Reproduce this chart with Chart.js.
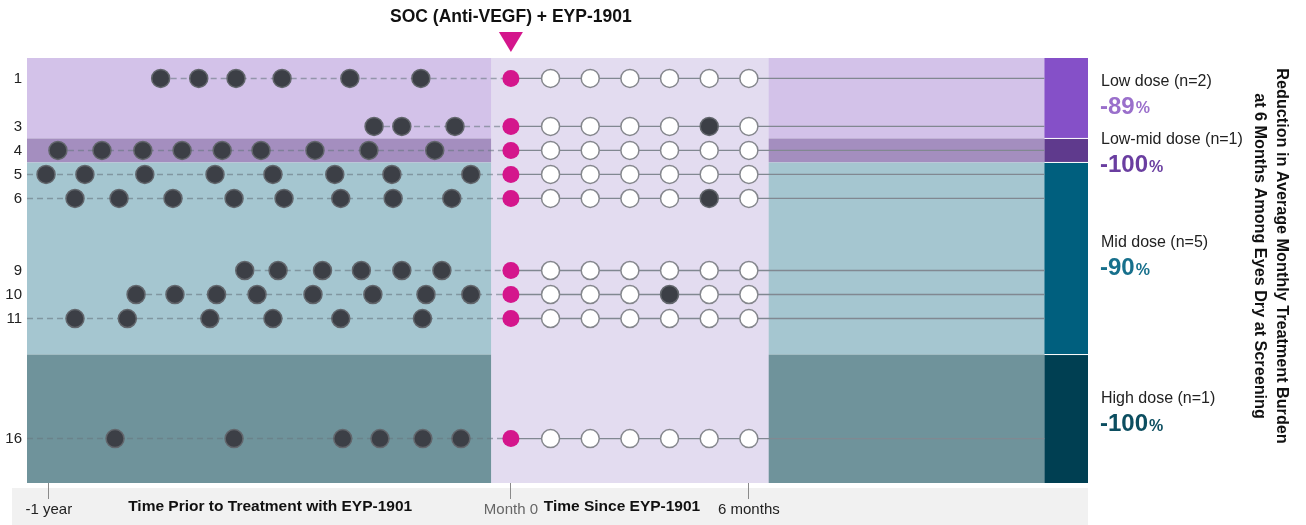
<!DOCTYPE html>
<html lang="en">
<head>
<meta charset="UTF-8">
<title>Treatment burden before and after EYP-1901</title>
<script src="https://cdn.jsdelivr.net/npm/chart.js"></script>
<style>
  body { margin: 0; background: #fff; }
</style>
</head>
<body>
<canvas id="swimmer" width="1306" height="525"></canvas>
<script>
// eye number shown on the left
const rows = [1, 3, 4, 5, 6, 9, 10, 11, 16];
// anti-VEGF injections before EYP-1901, in months before month 0
const priorInjections = [
  [-8.83, -7.87, -6.93, -5.77, -4.06, -2.27],
  [-3.45, -2.75, -1.41],
  [-11.42, -10.31, -9.28, -8.29, -7.28, -6.30, -4.94, -3.58, -1.92],
  [-11.72, -10.74, -9.23, -7.46, -6.00, -4.44, -3.00, -1.01],
  [-10.99, -9.88, -8.52, -6.98, -5.72, -4.29, -2.97, -1.49],
  [-6.71, -5.87, -4.75, -3.77, -2.75, -1.74],
  [-9.45, -8.47, -7.42, -6.40, -4.99, -3.48, -2.14, -1.01],
  [-10.99, -9.67, -7.59, -6.00, -4.29, -2.23],
  [-9.98, -6.98, -4.24, -3.30, -2.22, -1.26]
];
// history goes back further than the first dot shown
const historyBeforeYear = [false, false, false, true, true, false, false, true, true];
const visitMonths = [1, 2, 3, 4, 5, 6];
// supplemental injections after EYP-1901 (month)
const supplemental = [[], [5], [], [], [5], [], [4], [], []];

const doseNames = ['Low dose (n=2)', 'Low-mid dose (n=1)', 'Mid dose (n=5)', 'High dose (n=1)'];
const doseReduction = [-89, -100, -90, -100];
const doseRowRange = [[0.15, 3.5], [3.5, 4.5], [4.5, 12.5], [12.5, 17.85]];
const doseLabelRow = [1.12, 3.55, 7.84, 14.35];
const doseBg = ['#d3c2e9', '#a48ebf', '#a5c6d0', '#6f939b'];
const doseStrip = ['#8550c8', '#5f3a8d', '#005f7e', '#003f52'];
const doseText = ['#9a6fcb', '#6a3ea0', '#17708c', '#0c4e60'];

const xTicks = [-11.65, 0, 6];
const xTickLabels = ['-1 year', 'Month 0', '6 months'];
const followUpWindow = [-0.5, 6.5];
const stripStart = 13.45;

const FONT = "'Liberation Sans', Arial, sans-serif";

// datasets
const datasets = [];
const preDots = [], openDots = [], filledPost = [], startDots = [];
rows.forEach((r, i) => {
  priorInjections[i].forEach(m => preDots.push({x: m, y: r}));
  startDots.push({x: 0, y: r});
  visitMonths.forEach(m => {
    if (supplemental[i].includes(m)) filledPost.push({x: m, y: r});
    else openDots.push({x: m, y: r});
  });
  const from = historyBeforeYear[i] ? -12.2 : priorInjections[i][0];
  datasets.push({
    data: [{x: from, y: r}, {x: 0, y: r}],
    showLine: true, borderColor: 'rgba(105,118,128,0.6)', borderWidth: 1.5,
    borderDash: [6, 4], pointRadius: 0, order: 3
  });
  datasets.push({
    data: [{x: 0, y: r}, {x: stripStart, y: r}],
    showLine: true, borderColor: '#818891', borderWidth: 1.3,
    pointRadius: 0, order: 3
  });
});
datasets.push({data: preDots, pointRadius: 9, backgroundColor: '#3c3f46',
  borderColor: '#62666c', borderWidth: 1.5, order: 1});
datasets.push({data: filledPost, pointRadius: 9, backgroundColor: '#3c3f46',
  borderColor: '#62666c', borderWidth: 1.5, order: 1});
datasets.push({data: openDots, pointRadius: 9, backgroundColor: '#ffffff',
  borderColor: '#85878d', borderWidth: 1.5, order: 1});
datasets.push({data: startDots, pointRadius: 8.5, backgroundColor: '#d4168c',
  borderWidth: 0, order: 1});

const backdrop = {
  id: 'backdrop',
  beforeDraw(chart) {
    const {ctx} = chart;
    ctx.save();
    ctx.fillStyle = '#f1f1f1';
    ctx.fillRect(12, 488, 1076, 37);
    ctx.restore();
  },
  beforeDatasetsDraw(chart) {
    const {ctx, chartArea: a, scales: {x, y}} = chart;
    const sx = x.getPixelForValue(stripStart);
    ctx.save();
    doseRowRange.forEach((rg, i) => {
      const y0 = y.getPixelForValue(rg[0]), y1 = y.getPixelForValue(rg[1]);
      ctx.fillStyle = doseBg[i];
      ctx.fillRect(a.left, y0, sx - a.left, y1 - y0);
      ctx.fillStyle = doseStrip[i];
      ctx.fillRect(sx, y0, a.right - sx, y1 - y0);
      if (i > 0) {
        ctx.fillStyle = '#ffffff';
        ctx.fillRect(sx, y0 - 0.5, a.right - sx, 1);
      }
    });
    const px0 = x.getPixelForValue(followUpWindow[0]), px1 = x.getPixelForValue(followUpWindow[1]);
    ctx.fillStyle = '#e3dcf0';
    ctx.fillRect(px0, a.top, px1 - px0, a.bottom - a.top);
    ctx.restore();
  },
  afterDraw(chart) {
    const {ctx, scales: {x, y}} = chart;
    const x0 = x.getPixelForValue(0);
    ctx.save();
    // title and marker
    ctx.fillStyle = '#111';
    ctx.font = 'bold 17.5px ' + FONT;
    ctx.textAlign = 'center';
    ctx.textBaseline = 'middle';
    ctx.fillText('SOC (Anti-VEGF) + EYP-1901', x0, 17);
    ctx.fillStyle = '#d4168c';
    ctx.beginPath();
    ctx.moveTo(x0 - 12, 32);
    ctx.lineTo(x0 + 12, 32);
    ctx.lineTo(x0, 52);
    ctx.closePath();
    ctx.fill();

    // axis section titles
    ctx.fillStyle = '#111';
    ctx.font = 'bold 15.5px ' + FONT;
    ctx.fillText('Time Prior to Treatment with EYP-1901', x.getPixelForValue(-6.07), 507);
    ctx.fillText('Time Since EYP-1901', x.getPixelForValue(2.8), 507);

    // dose labels
    ctx.textAlign = 'left';
    doseNames.forEach((name, i) => {
      const yn = y.getPixelForValue(doseLabelRow[i]);
      const yv = y.getPixelForValue(doseLabelRow[i] + 1.07);
      ctx.fillStyle = '#222';
      ctx.font = '16px ' + FONT;
      ctx.fillText(name, 1101, yn);
      ctx.fillStyle = doseText[i];
      ctx.font = 'bold 24px ' + FONT;
      const num = String(doseReduction[i]);
      ctx.fillText(num, 1100, yv);
      const w = ctx.measureText(num).width;
      ctx.font = 'bold 16px ' + FONT;
      ctx.fillText('%', 1100 + w + 1, yv + 2);
    });

    // rotated side title
    ctx.translate(1281, 256);
    ctx.rotate(Math.PI / 2);
    ctx.fillStyle = '#111';
    ctx.font = 'bold 16.2px ' + FONT;
    ctx.textAlign = 'center';
    ctx.fillText('Reduction in Average Monthly Treatment Burden', 0, 0);
    ctx.fillText('at 6 Months Among Eyes Dry at Screening', 0, 22);
    ctx.restore();
  }
};

new Chart(document.getElementById('swimmer'), {
  type: 'scatter',
  data: {datasets},
  options: {
    responsive: false,
    animation: false,
    clip: false,
    layout: {padding: {left: 0, top: 58, right: 218, bottom: 0}},
    plugins: {legend: {display: false}, tooltip: {enabled: false}},
    scales: {
      x: {
        type: 'linear', min: -12.2, max: 14.55,
        afterBuildTicks: s => { s.ticks = xTicks.map(v => ({value: v})); },
        afterFit: s => { s.height = 42; },
        grid: {drawOnChartArea: false, drawTicks: true, tickLength: 16, color: '#8a8a8a'},
        border: {display: false},
        ticks: {
          autoSkip: false, maxRotation: 0, padding: 2,
          callback: (v, i) => xTickLabels[i],
          color: c => c.index === 1 ? '#666' : '#222',
          font: {size: 15, family: FONT}
        }
      },
      y: {
        type: 'linear', min: 0.15, max: 17.85, reverse: true,
        afterBuildTicks: s => { s.ticks = rows.map(v => ({value: v})); },
        afterFit: s => { s.width = 27; },
        grid: {display: false, drawTicks: false},
        border: {display: false},
        ticks: {padding: 5, color: '#222', font: {size: 15, family: FONT}}
      }
    }
  },
  plugins: [backdrop]
});
</script>
</body>
</html>
